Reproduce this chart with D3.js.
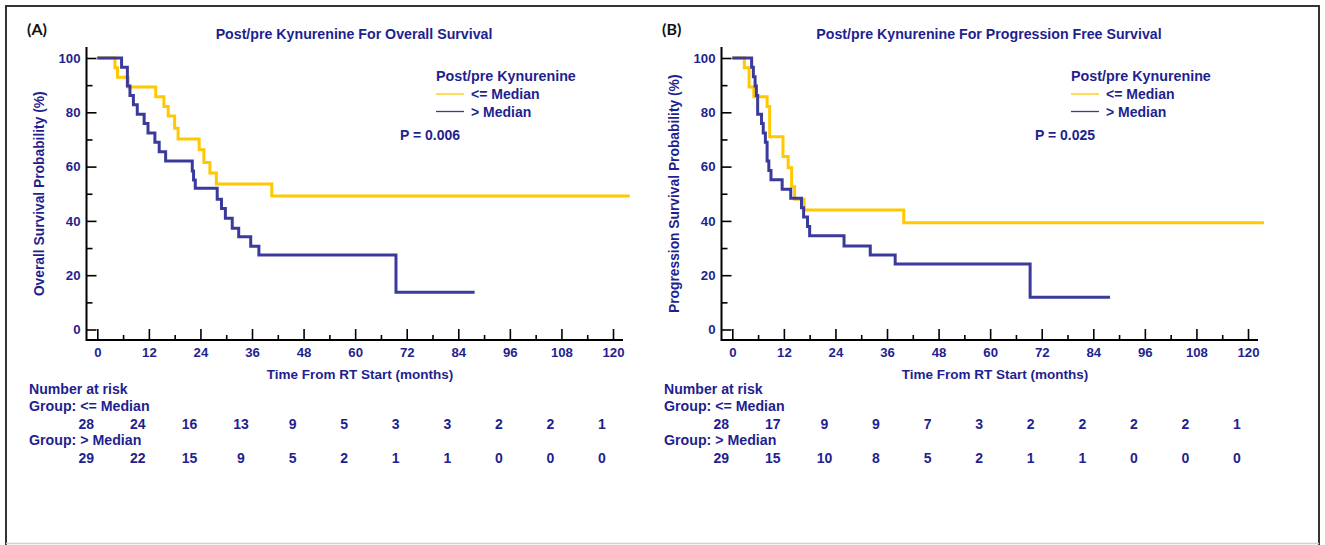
<!DOCTYPE html>
<html>
<head>
<meta charset="utf-8">
<script src="https://cdn.jsdelivr.net/npm/d3@7"></script>
<style>
  html, body { margin: 0; padding: 0; background: #fff; }
  svg { display: block; }
  text { font-family: "Liberation Sans", Arial, sans-serif; font-weight: bold; fill: #1f1f8f; }
  .panel-tag { font-family: Lato, "Open Sans", sans-serif; fill: #111; font-size: 16px; }
</style>
</head>
<body>
<svg id="chart" width="1325" height="545"></svg>
<script>
// ── Data ─────────────────────────────────────────────────────────────────────

const TIME_TICKS = [0, 12, 24, 36, 48, 60, 72, 84, 96, 108, 120];
const PROB_TICKS = [0, 20, 40, 60, 80, 100];
const GROUPS = ["<= Median", "> Median"];

// Kaplan-Meier steps [months, survival %]
const osLow = [
  [0, 100], [4.1, 96.4], [4.7, 92.9], [7.2, 89.3], [13.6, 85.7], [15.5, 82.1],
  [16.5, 78.6], [18.0, 74.1], [18.8, 70.2], [23.7, 66.2], [24.8, 61.5],
  [26.2, 57.6], [27.7, 53.6], [40.6, 49.2], [123.9, 49.2],
];
const osHigh = [
  [0, 100], [5.65, 96.6], [7.0, 89.7], [7.6, 86.2], [8.4, 82.8], [9.3, 79.3],
  [10.9, 75.9], [11.8, 72.4], [13.4, 69.0], [14.4, 65.5], [15.9, 62.1],
  [22.1, 58.4], [22.4, 55.1], [22.8, 52.0], [27.9, 48.0], [28.9, 44.6],
  [29.8, 41.0], [31.4, 37.3], [32.9, 34.2], [35.7, 30.7], [37.6, 27.4],
  [69.5, 13.7], [87.8, 13.7],
];
const pfsLow = [
  [0, 100], [2.8, 96.4], [3.9, 89.3], [5.0, 85.7], [8.1, 82.1], [8.7, 71.0],
  [11.8, 63.7], [13.0, 59.6], [13.8, 52.6], [14.5, 48.0], [16.7, 44.0],
  [39.9, 39.3], [123.7, 39.3],
];
const pfsHigh = [
  [0, 100], [4.5, 96.6], [4.9, 93.1], [5.3, 89.7], [5.6, 86.2], [5.9, 79.3],
  [6.8, 75.9], [7.2, 72.4], [7.7, 69.0], [8.1, 62.1], [8.5, 58.6], [9.0, 55.2],
  [11.6, 51.7], [13.6, 48.3], [16.1, 44.8], [16.6, 41.4], [17.5, 37.9],
  [18.0, 34.5], [26.0, 30.8], [32.1, 27.4], [37.9, 24.1], [69.3, 11.9],
  [87.9, 11.9],
];

const osRiskLow  = [28, 24, 16, 13, 9, 5, 3, 3, 2, 2, 1];
const osRiskHigh = [29, 22, 15, 9, 5, 2, 1, 1, 0, 0, 0];
const pfsRiskLow  = [28, 17, 9, 9, 7, 3, 2, 2, 2, 2, 1];
const pfsRiskHigh = [29, 15, 10, 8, 5, 2, 1, 1, 0, 0, 0];

const COLOR_LOW = "#ffc800";
const COLOR_HIGH = "#3a3a9c";

const panels = [
  {
    tag: "(A)", title: "Post/pre Kynurenine For Overall Survival",
    yLabel: "Overall Survival Probability (%)", p: "P = 0.006",
    low: osLow, high: osHigh, riskLow: osRiskLow, riskHigh: osRiskHigh,
    left: 0,
  },
  {
    tag: "(B)", title: "Post/pre Kynurenine For Progression Free Survival",
    yLabel: "Progression Survival Probability (%)", p: "P = 0.025",
    low: pfsLow, high: pfsHigh, riskLow: pfsRiskLow, riskHigh: pfsRiskHigh,
    left: 635,
  },
];

// ── Drawing ──────────────────────────────────────────────────────────────────

const svg = d3.select("#chart");

// outer frame
svg.append("rect")
  .attr("x", 6).attr("y", 6).attr("width", 1313).attr("height", 560)
  .attr("fill", "none").attr("stroke", "#333").attr("stroke-width", 2);

function drawPanel(p) {
  const g = svg.append("g").attr("transform", `translate(${p.left},0)`);

  const axisX = 86.5, axisTop = 47, axisY = 340, axisRight = 623;
  const x = d3.scaleLinear().domain([0, 120]).range([97.3, 613]);
  const y = d3.scaleLinear().domain([0, 100]).range([329.5, 58]);

  g.append("text").attr("class", "panel-tag")
    .attr("x", 27).attr("y", 35).text(p.tag);

  g.append("text")
    .attr("x", 354).attr("y", 38.5)
    .attr("text-anchor", "middle").attr("font-size", 14.2)
    .text(p.title);

  // y axis
  const yAxis = d3.axisLeft(y).tickValues(PROB_TICKS)
    .tickSizeInner(-10).tickSizeOuter(0).tickPadding(6);
  const yg = g.append("g").attr("transform", `translate(${axisX},0)`).call(yAxis);
  const yMinor = d3.axisLeft(y).tickValues([10, 30, 50, 70, 90])
    .tickSizeInner(-6).tickSizeOuter(0).tickFormat("");
  const ygm = g.append("g").attr("transform", `translate(${axisX},0)`).call(yMinor);

  // x axis
  const xAxis = d3.axisBottom(x).tickValues(TIME_TICKS)
    .tickSizeInner(-11).tickSizeOuter(0).tickPadding(8);
  const xg = g.append("g").attr("transform", `translate(0,${axisY})`).call(xAxis);
  const xMinor = d3.axisBottom(x).tickValues(d3.range(6, 120, 12))
    .tickSizeInner(-5).tickSizeOuter(0).tickFormat("");
  const xgm = g.append("g").attr("transform", `translate(0,${axisY})`).call(xMinor);

  [yg, ygm, xg, xgm].forEach(a => {
    a.select(".domain").remove();
    a.selectAll(".tick line").attr("stroke", "#000").attr("stroke-width", 1.6);
    a.selectAll(".tick text")
      .attr("font-size", 13.2).attr("fill", "#1f1f8f")
      .attr("font-family", "Liberation Sans, Arial, sans-serif");
  });

  g.append("path")
    .attr("d", `M${axisX},${axisTop}V${axisY}H${axisRight}`)
    .attr("fill", "none").attr("stroke", "#000").attr("stroke-width", 2);

  g.append("text")
    .attr("transform", `translate(44,${(58 + 329.5) / 2}) rotate(-90)`)
    .attr("text-anchor", "middle").attr("font-size", 13.8)
    .text(p.yLabel);

  g.append("text")
    .attr("x", 360).attr("y", 379)
    .attr("text-anchor", "middle").attr("font-size", 13.5)
    .text("Time From RT Start (months)");

  // curves
  const line = d3.line()
    .x(d => x(d[0])).y(d => y(d[1]))
    .curve(d3.curveStepAfter);
  [[p.low, COLOR_LOW], [p.high, COLOR_HIGH]].forEach(([data, c]) => {
    g.append("path").datum(data)
      .attr("d", line)
      .attr("fill", "none").attr("stroke", c)
      .attr("stroke-width", 3);
  });

  // legend
  const lgX = 436;
  g.append("text").attr("x", lgX).attr("y", 81)
    .attr("font-size", 14.3).text("Post/pre Kynurenine");
  [[COLOR_LOW, GROUPS[0]], [COLOR_HIGH, GROUPS[1]]].forEach(([c, label], i) => {
    const ly = 94 + i * 17.5;
    g.append("line")
      .attr("x1", lgX).attr("x2", lgX + 28)
      .attr("y1", ly).attr("y2", ly)
      .attr("stroke", c).attr("stroke-width", 1.3);
    g.append("text").attr("x", lgX + 35).attr("y", ly + 5)
      .attr("font-size", 14).text(label);
  });
  g.append("text").attr("x", 400).attr("y", 140)
    .attr("font-size", 14).text(p.p);

  // number at risk
  g.append("text").attr("x", 29).attr("y", 394)
    .attr("font-size", 14.1).text("Number at risk");
  [[p.riskLow, GROUPS[0]], [p.riskHigh, GROUPS[1]]].forEach(([vals, label], i) => {
    const top = 411 + i * 34;
    g.append("text").attr("x", 29).attr("y", top)
      .attr("font-size", 14.2).text("Group: " + label);
    g.selectAll(null).data(vals).join("text")
      .attr("x", (_, j) => x(TIME_TICKS[j]) - 11)
      .attr("y", top + 18)
      .attr("text-anchor", "middle").attr("font-size", 14)
      .text(d => d);
  });
}

panels.forEach(drawPanel);

// faint bottom edge of the frame
svg.append("line")
  .attr("x1", 6).attr("x2", 1319).attr("y1", 543.5).attr("y2", 543.5)
  .attr("stroke", "#d0d0d0").attr("stroke-width", 1.5);
</script>
</body>
</html>
